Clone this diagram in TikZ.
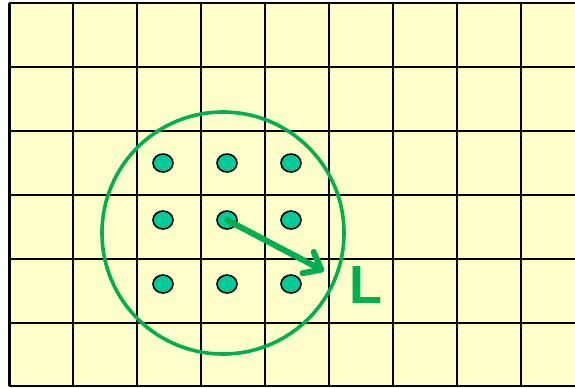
\documentclass[tikz,border=0pt]{standalone}
\usepackage{fontspec}
\setmainfont{Liberation Sans}
\usetikzlibrary{arrows.meta, shapes.geometric}
\definecolor{cellfill}{HTML}{FFFFCC}
\definecolor{ringgreen}{HTML}{00B050}
\definecolor{dotgreen}{HTML}{00CC99}

\begin{document}
\begin{tikzpicture}[x=1bp, y=-1bp,
    gridline/.style={line width=2bp, black},
    site/.style={ellipse, draw=black, line width=1.6bp, fill=dotgreen, minimum width=20bp, minimum height=18bp, inner sep=0pt},
    ring/.style={circle, draw=ringgreen, line width=3.6bp, minimum size=242bp, inner sep=0pt},
    vec/.style={-{Straight Barb[length=15bp, width=24bp, round]}, line width=6bp, ringgreen, line cap=round}]
\useasboundingbox (0,0) rectangle (575,387);
% lattice
\fill[cellfill] (9,3) rectangle (575,386);
\foreach \x in {73,137,...,521} \draw[gridline] (\x,3) -- (\x,386);
\foreach \y in {3,67,131,195,259,323,386} \draw[gridline] (9,\y) -- (575,\y);
\draw[line width=3bp] (9,3) -- (9,386);
% sites and cutoff
\node[ring] (ring) at (223,233) {};
\foreach \y/\r in {163/1,220/2,284/3}
  \foreach \x/\c in {163/1,227/2,291/3}
    \node[site] (site\r\c) at (\x,\y) {};
\coordinate (tip) at (324,271);
\draw[vec] (site22.center) -- (tip);
\node[ringgreen, font=\bfseries\fontsize{54}{54}\selectfont, inner sep=0pt] (lbl) at (366,285) {L};
\end{tikzpicture}
\end{document}
